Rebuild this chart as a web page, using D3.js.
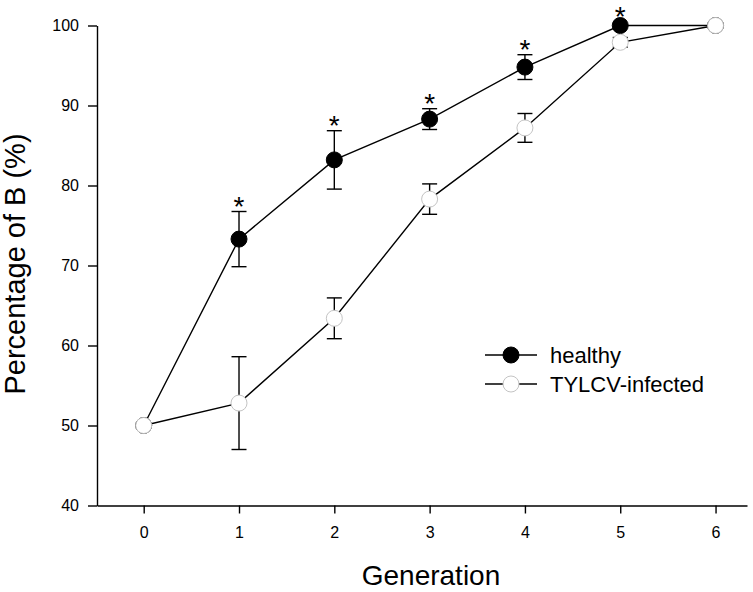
<!DOCTYPE html>
<html>
<head>
<meta charset="utf-8">
<script src="https://cdn.jsdelivr.net/npm/d3@7"></script>
<style>
  html, body { margin: 0; padding: 0; background: #fff; }
  svg { display: block; }
  text { font-family: "Liberation Sans", Arial, sans-serif; fill: #000; }
</style>
</head>
<body>
<svg id="chart" width="753" height="592"></svg>
<script>
// ---- data ----
const generations = [0, 1, 2, 3, 4, 5, 6];
const healthyMean = [50, 73.3, 83.2, 88.3, 94.8, 100, 100];
const healthyErr  = [0, 3.45, 3.65, 1.3, 1.55, 0, 0];
const infectedMean = [50, 52.8, 63.4, 78.3, 87.2, 97.9, 100];
const infectedErr  = [0, 5.8, 2.55, 1.9, 1.8, 0.6, 0];
const significant = [false, true, true, true, true, true, false];
const yTicks = [40, 50, 60, 70, 80, 90, 100];
const seriesNames = ["healthy", "TYLCV-infected"];

const svg = d3.select("#chart");
const x = d3.scaleLinear().domain([-0.49, 6.33]).range([97, 747]);
const y = d3.scaleLinear().domain([40, 100]).range([505.5, 25.5]);

// axes
const xAxis = svg.append("g").attr("transform", "translate(0,505.5)")
  .call(d3.axisBottom(x).tickValues(generations).tickFormat(d3.format("d")).tickSize(8).tickSizeOuter(0));
xAxis.selectAll("text").attr("y", 32.5).attr("dy", 0).style("font-size", "16px");
const yAxis = svg.append("g").attr("transform", "translate(97,0)")
  .call(d3.axisLeft(y).tickValues(yTicks).tickSize(9).tickSizeOuter(0).tickPadding(9));
yAxis.selectAll("text").style("font-size", "16px");
svg.selectAll(".domain, .tick line").attr("stroke", "#000").attr("stroke-width", 1.4);

// titles
svg.append("text").attr("x", 431).attr("y", 585).attr("text-anchor", "middle")
  .style("font-size", "28px").text("Generation");
svg.append("text").attr("transform", "translate(25,264) rotate(-90)").attr("text-anchor", "middle")
  .style("font-size", "29px").text("Percentage of B (%)");

const line = d3.line().x((d, i) => x(generations[i])).y(d => y(d));
const series = [
  { mean: healthyMean, err: healthyErr, fill: "#000", stroke: "#000" },
  { mean: infectedMean, err: infectedErr, fill: "#fff", stroke: "#c4c4c4" }
];

series.forEach(s => {
  svg.append("path").datum(s.mean).attr("d", line).attr("fill", "none")
    .attr("stroke", "#000").attr("stroke-width", 1.4);
});
series.forEach(s => {
  const g = svg.append("g");
  generations.forEach((gx, i) => {
    if (s.err[i] <= 0) return;
    const cx = x(gx), y1 = y(s.mean[i] + s.err[i]), y2 = y(s.mean[i] - s.err[i]);
    g.append("line").attr("x1", cx).attr("x2", cx).attr("y1", y1).attr("y2", y2);
    g.append("line").attr("x1", cx - 7.5).attr("x2", cx + 7.5).attr("y1", y1).attr("y2", y1);
    g.append("line").attr("x1", cx - 7.5).attr("x2", cx + 7.5).attr("y1", y2).attr("y2", y2);
  });
  g.selectAll("line").attr("stroke", "#000").attr("stroke-width", 1.4);
});
series.forEach(s => {
  svg.append("g").selectAll("circle").data(s.mean).join("circle")
    .attr("cx", (d, i) => x(generations[i])).attr("cy", d => y(d)).attr("r", 8)
    .attr("fill", s.fill).attr("stroke", s.stroke).attr("stroke-width", 1);
});

// significance asterisks
generations.forEach((gx, i) => {
  if (!significant[i]) return;
  const base = healthyErr[i] > 0 ? y(healthyMean[i] + healthyErr[i]) + 4 : y(healthyMean[i]) + 0.2;
  svg.append("text").attr("x", x(gx)).attr("y", base).attr("text-anchor", "middle")
    .style("font-size", "28px").text("*");
});

// legend
series.forEach((s, k) => {
  const ly = 355 + k * 29;
  svg.append("line").attr("x1", 485).attr("x2", 537).attr("y1", ly).attr("y2", ly)
    .attr("stroke", "#000").attr("stroke-width", 1.4);
  svg.append("circle").attr("cx", 511).attr("cy", ly).attr("r", 8)
    .attr("fill", s.fill).attr("stroke", s.stroke).attr("stroke-width", 1);
  svg.append("text").attr("x", 550).attr("y", ly + 7.5).style("font-size", "22px").text(seriesNames[k]);
});
</script>
</body>
</html>
